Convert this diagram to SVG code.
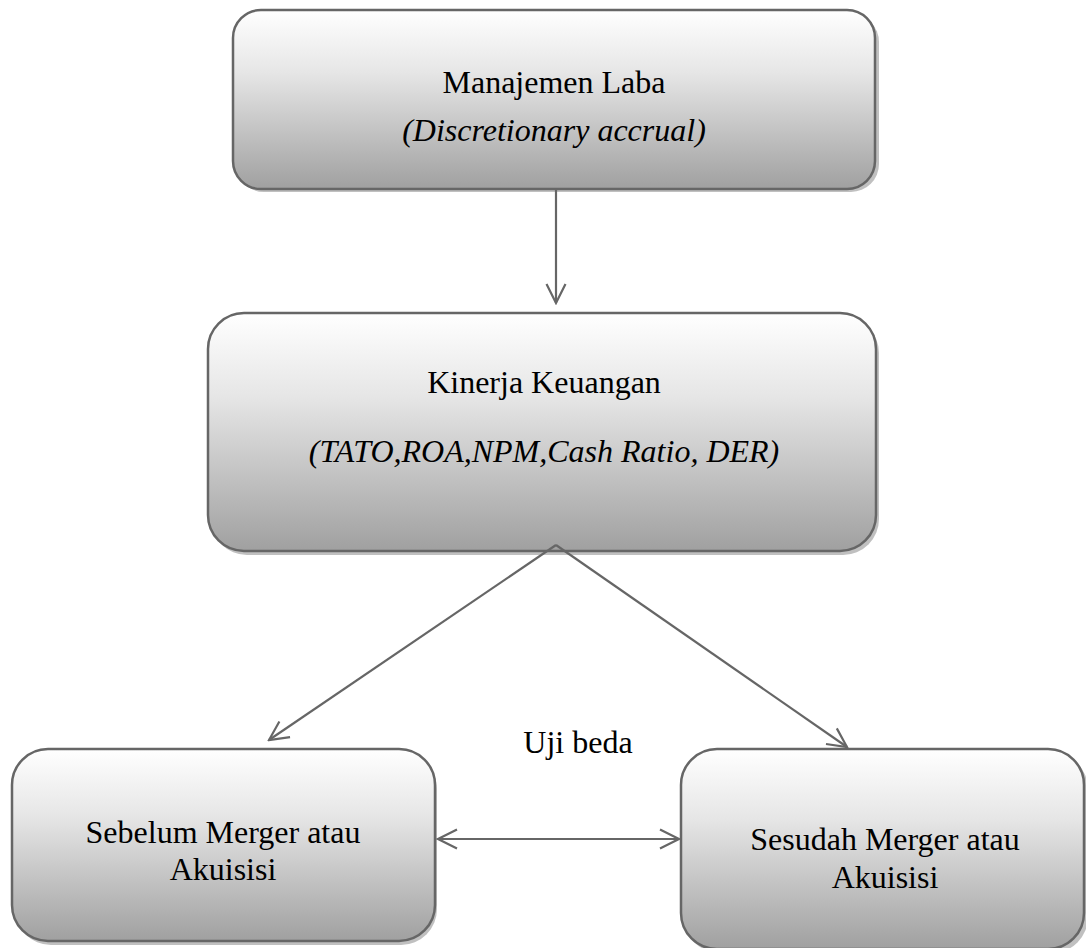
<svg xmlns="http://www.w3.org/2000/svg" width="1086" height="948" viewBox="0 0 1086 948">
<defs>
<linearGradient id="g" x1="0" y1="0" x2="0" y2="1">
<stop offset="0" stop-color="#ffffff"/>
<stop offset="0.35" stop-color="#e6e6e6"/>
<stop offset="1" stop-color="#a0a0a0"/>
</linearGradient>
<marker id="ah" viewBox="0 0 22 22" refX="20" refY="11" markerWidth="22" markerHeight="22" markerUnits="userSpaceOnUse" orient="auto-start-reverse">
<path d="M1,1.5 L20,11 L1,20.5" fill="none" stroke="#666" stroke-width="2.2"/>
</marker>
</defs>
<style>
.box{fill:url(#g);stroke:#666;stroke-width:2.5}
.sh{fill:#c0c0c0}
.t{font-family:"Liberation Serif","Times New Roman",serif;font-size:32px;fill:#000;text-anchor:middle}
.i{font-style:italic}
.c{stroke:#666;stroke-width:2.2;fill:none}
</style>
<g id="manajemen">
<rect class="sh" x="236" y="14" width="643" height="178" rx="28"/>
<rect class="box" x="233" y="10" width="642" height="179" rx="28"/>
<text class="t" x="554" y="93">Manajemen Laba</text>
<text class="t i" x="554" y="141">(Discretionary accrual)</text>
</g>
<g id="kinerja">
<rect class="sh" x="211" y="317" width="668" height="238" rx="36"/>
<rect class="box" x="208" y="313" width="668" height="238" rx="36"/>
<text class="t" x="544" y="393">Kinerja Keuangan</text>
<text class="t i" x="544" y="462">(TATO,ROA,NPM,Cash Ratio, DER)</text>
</g>
<g id="sebelum">
<rect class="sh" x="15" y="753" width="422" height="192" rx="36"/>
<rect class="box" x="12" y="749" width="423" height="192" rx="36"/>
<text class="t" x="223" y="843">Sebelum Merger atau</text>
<text class="t" x="223" y="880">Akuisisi</text>
</g>
<g id="sesudah">
<rect class="sh" x="684" y="753" width="404" height="200" rx="36"/>
<rect class="box" x="681" y="749" width="403" height="200" rx="36"/>
<text class="t" x="885" y="850">Sesudah Merger atau</text>
<text class="t" x="885" y="888">Akuisisi</text>
</g>
<text class="t" x="578" y="753">Uji beda</text>
<g id="connectors">
<line class="c" x1="556" y1="189" x2="556" y2="303" marker-end="url(#ah)"/>
<line class="c" x1="556" y1="545" x2="269" y2="740" marker-end="url(#ah)"/>
<line class="c" x1="556" y1="545" x2="847" y2="747" marker-end="url(#ah)"/>
<line class="c" x1="438" y1="839" x2="679" y2="839" marker-start="url(#ah)" marker-end="url(#ah)"/>
</g>
</svg>
